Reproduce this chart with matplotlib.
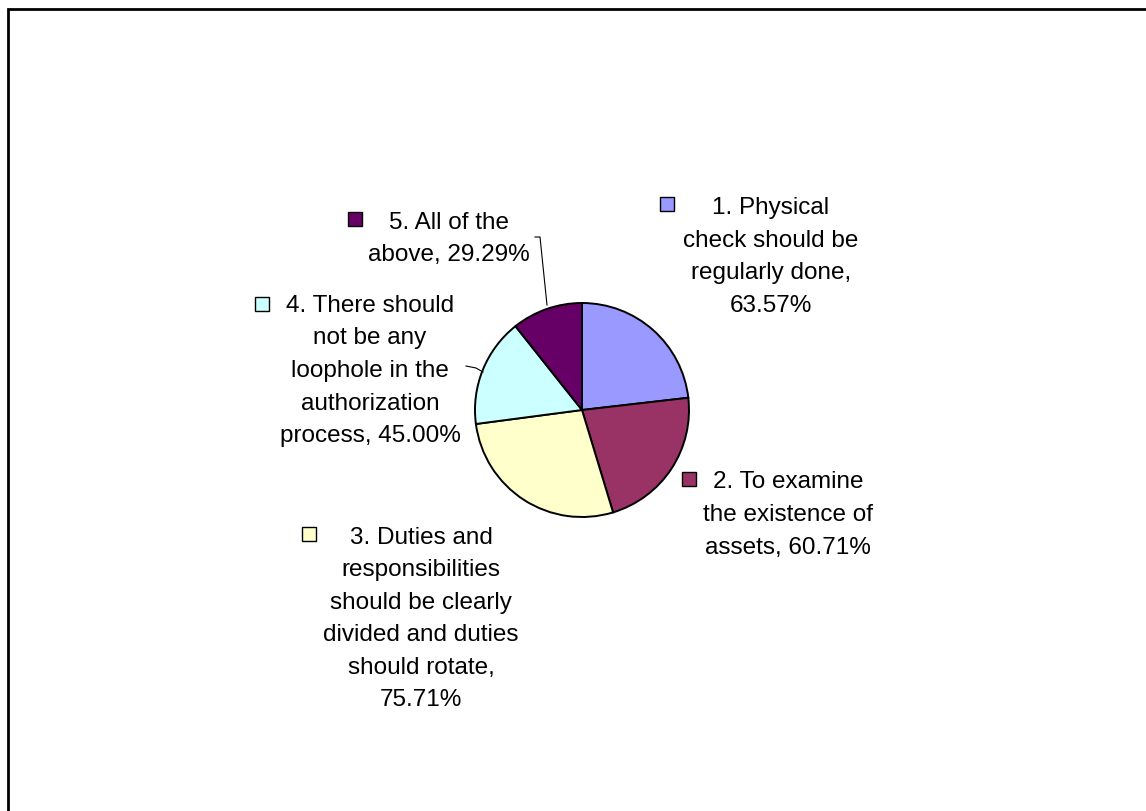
import matplotlib.pyplot as plt
from matplotlib.patches import Rectangle

plt.rcParams['font.family'] = ['Liberation Sans', 'DejaVu Sans']

# data
labels = [
    "1. Physical\ncheck should be\nregularly done,\n63.57%",
    "2. To examine\nthe existence of\nassets, 60.71%",
    "3. Duties and\nresponsibilities\nshould be clearly\ndivided and duties\nshould rotate,\n75.71%",
    "4. There should\nnot be any\nloophole in the\nauthorization\nprocess, 45.00%",
    "5. All of the\nabove, 29.29%",
]
values = [63.57, 60.71, 75.71, 45.00, 29.29]
colors = ['#9999FF', '#993366', '#FFFFCC', '#CCFFFF', '#660066']

# layout in pixel coordinates (y measured from the top)
W, H = 1146, 812
text_pos = [(771, 257), (788, 515), (421, 619), (370, 371), (449, 239)]
key_pos = [(667, 205), (689, 480), (309, 535), (262, 305), (355, 220)]


def fy(y):
    return H - y


fig = plt.figure(figsize=(W / 100, H / 100), dpi=100)
ax = fig.add_axes([0, 0, 1, 1])

ax.pie(values, colors=colors, startangle=90, counterclock=False,
       center=(582, fy(411)), radius=107,
       wedgeprops=dict(edgecolor='black', linewidth=1.4))

for lab, (tx, ty), (kx, ky), c in zip(labels, text_pos, key_pos, colors):
    ax.text(tx, fy(ty), lab, ha='center', va='center', fontsize=17.5,
            linespacing=1.62, color='black')
    ax.plot(kx, fy(ky), marker='s', markersize=10, markerfacecolor=c,
            markeredgecolor='black', markeredgewidth=1.0)

# leader lines
ax.plot([535, 540, 547], [fy(238), fy(238), fy(306)], color='black', lw=0.8)
ax.plot([466, 476, 483], [fy(367), fy(369), fy(373)], color='black', lw=0.8)

ax.set_xlim(0, W)
ax.set_ylim(0, H)
ax.set_aspect('auto')
ax.axis('off')

# chart area frame (only top and left edges fall inside the image)
fig.add_artist(Rectangle((8 / W, -0.2), 1.5, fy(10) / H + 0.2,
                         transform=fig.transFigure, fill=False,
                         edgecolor='black', linewidth=2))

fig.savefig('out.png', dpi=100)
